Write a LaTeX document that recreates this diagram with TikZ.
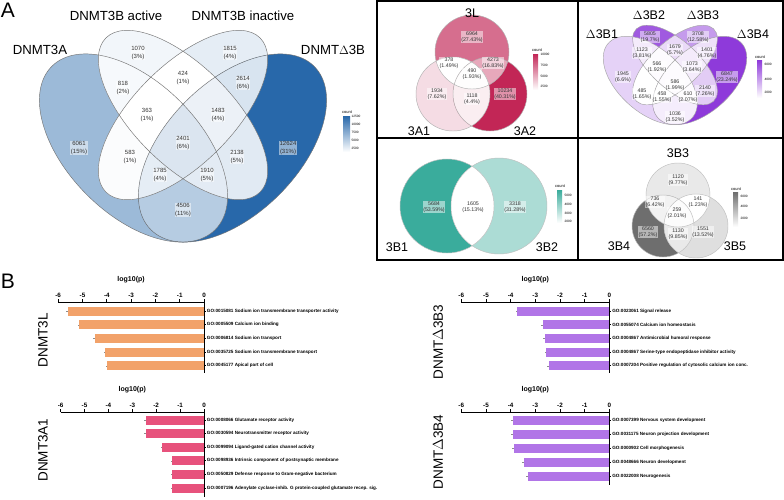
\documentclass[tikz,border=0pt]{standalone}
\usepackage{fontspec}
\setmainfont{Liberation Sans}
\usetikzlibrary{positioning}

\definecolor{vblue}{RGB}{40,104,170}
\definecolor{vred}{RGB}{194,38,86}
\definecolor{vpurple}{RGB}{142,58,218}
\definecolor{vteal}{RGB}{58,172,156}
\definecolor{vgrey}{RGB}{110,110,110}
\definecolor{barorange}{RGB}{242,162,106}
\definecolor{barpink}{RGB}{231,82,124}
\definecolor{barpurple}{RGB}{177,117,231}

% the four ellipses, placed round the centre of the two inner ones
\newcommand{\shA}{[rotate around={-45:(-49.5,33)}] (-49.5,33) ellipse [x radius=115.5, y radius=66]}
\newcommand{\shB}{[rotate around={-45:(0,0)}] (0,0) ellipse [x radius=109, y radius=49.5]}
\newcommand{\shC}{[rotate around={45:(0,0)}] (0,0) ellipse [x radius=109, y radius=49.5]}
\newcommand{\shD}{[rotate around={45:(49.5,33)}] (49.5,33) ellipse [x radius=115.5, y radius=66]}
% circles of the small diagrams
\newcommand{\cirL}{(472,52) circle [radius=37]}
\newcommand{\cirAa}{(453,94) circle [radius=37]}
\newcommand{\cirAb}{(490,94) circle [radius=37]}
\newcommand{\cirBa}{(447,206) circle [radius=47]}
\newcommand{\cirBb}{(499,206) circle [radius=48]}
\newcommand{\cirBc}{(678,195) circle [radius=32]}
\newcommand{\cirBd}{(663,226) circle [radius=31]}
\newcommand{\cirBe}{(696,226) circle [radius=32]}

% paint the part shared by all shapes in #1
\newcommand{\overlap}[2]{%
  \begin{scope}
    \foreach \s in {#1} {\clip \s;}
    \fill[#2] (-900,-900) rectangle (900,900);
  \end{scope}}

\begin{document}
\begin{tikzpicture}[x=1pt, y=-1pt,
    vline/.style={draw=black!55, line width=0.45pt},
    setname/.style={font=\fontsize{13.2}{15}\selectfont},
    smallset/.style={font=\fontsize{12.5}{14}\selectfont},
    cnt/.style={font=\fontsize{6}{7.2}\selectfont, align=center, text=black!80,
        fill=white, fill opacity=0.5, text opacity=1, inner sep=0.6pt},
    scnt/.style={cnt, font=\fontsize{5.3}{6.4}\selectfont},
    barkey/.style={font=\fontsize{4}{4}\selectfont, inner sep=0.5pt},
    barnum/.style={font=\fontsize{3.2}{3.2}\selectfont, anchor=west, inner sep=0.4pt},
    panel/.style={font=\fontsize{21}{21}\selectfont},
    axis/.style={line width=0.7pt},
    whisker/.style={line width=0.35pt, draw=black!45},
    ticknum/.style={font=\bfseries\fontsize{6.3}{6.3}\selectfont, inner sep=0.8pt},
    axtitle/.style={font=\bfseries\fontsize{7}{7}\selectfont},
    golab/.style={font=\bfseries\fontsize{4.6}{5}\selectfont, anchor=west, inner sep=0.6pt},
    chartname/.style={font=\fontsize{13.5}{15}\selectfont, rotate=90}
  ]
  \path[use as bounding box, fill=white] (0,0) rectangle (784,499);

  \node[panel] (pA) at (8,10) {A};
  \node[panel] (pB) at (8,281) {B};

  % --- FOUR-SET DIAGRAM ---
  \begin{scope}[shift={(183,115)}]
    \fill[vblue!46] \shA;
    \fill[vblue!6] \shB;
    \fill[vblue!12] \shC;
    \fill[vblue] \shD;
    \overlap{\shA,\shB}{vblue!4}
    \overlap{\shA,\shC}{vblue!2}
    \overlap{\shA,\shD}{vblue!34}
    \overlap{\shB,\shC}{white}
    \overlap{\shB,\shD}{vblue!14}
    \overlap{\shC,\shD}{vblue!18}
    \overlap{\shA,\shB,\shC}{white}
    \overlap{\shA,\shB,\shD}{vblue!13}
    \overlap{\shA,\shC,\shD}{vblue!12}
    \overlap{\shB,\shC,\shD}{vblue!9}
    \overlap{\shA,\shB,\shC,\shD}{vblue!17}
    \foreach \s in {\shA,\shB,\shC,\shD} \draw[vline] \s;
  \end{scope}
  \node[setname] (s3a) at (40,50) {DNMT3A};
  \node[setname] (s3bact) at (116,16) {DNMT3B active};
  \node[setname] (s3binact) at (243,16) {DNMT3B inactive};
  \node[setname] (sd3b) at (333,50) {DNMT$\Delta$3B};
  \node[cnt] (c1070) at (138,53) {1070\\(3\%)};
  \node[cnt] (c1815) at (230,53) {1815\\(4\%)};
  \node[cnt] (c818) at (123,88) {818\\(2\%)};
  \node[cnt] (c424) at (183,78) {424\\(1\%)};
  \node[cnt] (c2614) at (243,83) {2614\\(6\%)};
  \node[cnt] (c363) at (147,115) {363\\(1\%)};
  \node[cnt] (c1483) at (218,115) {1483\\(4\%)};
  \node[cnt] (c6061) at (79,148) {6061\\(15\%)};
  \node[cnt] (c2401) at (183,143) {2401\\(6\%)};
  \node[cnt] (c12624) at (288,148) {12624\\(31\%)};
  \node[cnt] (c583) at (130,157) {583\\(1\%)};
  \node[cnt] (c2138) at (237,157) {2138\\(5\%)};
  \node[cnt] (c1785) at (160,175) {1785\\(4\%)};
  \node[cnt] (c1910) at (207,175) {1910\\(5\%)};
  \node[cnt] (c4506) at (183,210) {4506\\(11\%)};
  \shade[top color=vblue, bottom color=white] (343,116) rectangle (350,152);
  \node[barkey] (kbig) at (347,112) {count};
  \foreach \v/\y in {12500/116,10000/124,7500/132,5000/140,2500/148}
    \node[barnum] (kbig\v) at (351,\y) {\v};

  % --- PANEL FRAME ---
  \draw[line width=1.4pt] (377,1) rectangle (783,260);
  \draw[line width=1.4pt] (578,1) -- (578,260);
  \draw[line width=1.4pt] (377,138) -- (783,138);

  % --- 3L / 3A1 / 3A2 ---
  \fill[vred!67] \cirL;
  \fill[vred!16] \cirAa;
  \fill[vred] \cirAb;
  \overlap{\cirL,\cirAa}{white}
  \overlap{\cirL,\cirAb}{vred!40}
  \overlap{\cirAa,\cirAb}{vred!8}
  \overlap{\cirL,\cirAa,\cirAb}{vred!1}
  \foreach \s in {\cirL,\cirAa,\cirAb} \draw[vline, draw=black!30] \s;
  \node[smallset] (s3l) at (472,13) {3L};
  \node[smallset] (s3a1) at (419,131) {3A1};
  \node[smallset] (s3a2) at (525,131) {3A2};
  \node[scnt] (c6964) at (472,37) {6964\\(27.43\%)};
  \node[scnt] (c378) at (449,63) {378\\(1.49\%)};
  \node[scnt] (c4273) at (493,63) {4273\\(16.83\%)};
  \node[scnt] (c490) at (472,74) {490\\(1.93\%)};
  \node[scnt] (c1934) at (437,94) {1934\\(7.62\%)};
  \node[scnt] (c1118) at (472,99) {1118\\(4.4\%)};
  \node[scnt] (c10234) at (505,94) {10234\\(40.31\%)};
  \shade[top color=vred, bottom color=white] (533,54) rectangle (538,90);
  \node[barkey] (kred) at (537,50) {count};
  \foreach \v/\y in {10000/54,7500/65,5000/76,2500/86}
    \node[barnum] (kred\v) at (540,\y) {\v};

  % --- DELTA3B1..4 ---
  \begin{scope}[shift={(675,65)}, xscale=0.5, yscale=0.47]
    \fill[vpurple!23] \shA;
    \fill[vpurple!84] \shB;
    \fill[vpurple!51] \shC;
    \fill[vpurple] \shD;
    \overlap{\shA,\shB}{vpurple!10}
    \overlap{\shA,\shC}{white}
    \overlap{\shA,\shD}{vpurple!9}
    \overlap{\shB,\shC}{vpurple!19}
    \overlap{\shB,\shD}{vpurple!26}
    \overlap{\shC,\shD}{vpurple!15}
    \overlap{\shA,\shB,\shC}{vpurple!2}
    \overlap{\shA,\shB,\shD}{vpurple!2}
    \overlap{\shA,\shC,\shD}{white}
    \overlap{\shB,\shC,\shD}{vpurple!10}
    \overlap{\shA,\shB,\shC,\shD}{vpurple!2}
    \foreach \s in {\shA,\shB,\shC,\shD} \draw[vline, draw=black!35] \s;
  \end{scope}
  \node[smallset] (sd1) at (602,34) {$\Delta$3B1};
  \node[smallset] (sd2) at (649,15) {$\Delta$3B2};
  \node[smallset] (sd3) at (703,15) {$\Delta$3B3};
  \node[smallset] (sd4) at (753,34) {$\Delta$3B4};
  \node[scnt] (c5805) at (650,37) {5805\\(19.7\%)};
  \node[scnt] (c3708) at (698,37) {3708\\(12.58\%)};
  \node[scnt] (c1123) at (642,53) {1123\\(3.81\%)};
  \node[scnt] (c1679) at (675,50) {1679\\(5.7\%)};
  \node[scnt] (c1401) at (707,53) {1401\\(4.76\%)};
  \node[scnt] (c1945) at (623,77) {1945\\(6.6\%)};
  \node[scnt] (c566) at (657,67) {566\\(1.92\%)};
  \node[scnt] (c1073) at (692,67) {1073\\(3.64\%)};
  \node[scnt] (c6847) at (727,77) {6847\\(23.24\%)};
  \node[scnt] (c586) at (675,85) {586\\(1.99\%)};
  \node[scnt] (c485) at (642,94) {485\\(1.65\%)};
  \node[scnt] (c458) at (662,97) {458\\(1.55\%)};
  \node[scnt] (c610) at (688,97) {610\\(2.07\%)};
  \node[scnt] (c2140) at (705,91) {2140\\(7.26\%)};
  \node[scnt] (c1036) at (675,117) {1036\\(3.52\%)};
  \shade[top color=vpurple, bottom color=white] (757,60) rectangle (762,98);
  \node[barkey] (kpur) at (760,57) {count};
  \foreach \v/\y in {6000/64,4000/79,2000/92}
    \node[barnum] (kpur\v) at (764,\y) {\v};

  % --- 3B1 / 3B2 ---
  \fill[vteal] \cirBa;
  \fill[vteal!42] \cirBb;
  \overlap{\cirBa,\cirBb}{white}
  \foreach \s in {\cirBa,\cirBb} \draw[vline, draw=black!25] \s;
  \node[smallset] (s3b1) at (397,247) {3B1};
  \node[smallset] (s3b2) at (547,247) {3B2};
  \node[scnt] (c5684) at (434,207) {5684\\(53.59\%)};
  \node[scnt] (c1605) at (473,207) {1605\\(15.13\%)};
  \node[scnt] (c3318) at (515,207) {3318\\(31.28\%)};
  \shade[top color=vteal, bottom color=white] (557,190) rectangle (562,223);
  \node[barkey] (ktea) at (560,186) {count};
  \foreach \v/\y in {5000/195,4000/204,3000/213,2000/221}
    \node[barnum] (ktea\v) at (564,\y) {\v};

  % --- 3B3 / 3B4 / 3B5 ---
  \fill[vgrey!15] \cirBc;
  \fill[vgrey] \cirBd;
  \fill[vgrey!22] \cirBe;
  \overlap{\cirBc,\cirBd}{vgrey!9}
  \overlap{\cirBc,\cirBe}{white}
  \overlap{\cirBd,\cirBe}{vgrey!15}
  \overlap{\cirBc,\cirBd,\cirBe}{vgrey!2}
  \foreach \s in {\cirBc,\cirBd,\cirBe} \draw[vline, draw=black!25] \s;
  \node[smallset] (s3b3) at (678,153) {3B3};
  \node[smallset] (s3b4) at (619,246) {3B4};
  \node[smallset] (s3b5) at (735,246) {3B5};
  \node[scnt] (c1120) at (678,180) {1120\\(9.77\%)};
  \node[scnt] (c736) at (655,202) {736\\(6.42\%)};
  \node[scnt] (c141) at (698,202) {141\\(1.23\%)};
  \node[scnt] (c259) at (677,213) {259\\(2.01\%)};
  \node[scnt] (c6560) at (648,232) {6560\\(57.2\%)};
  \node[scnt] (c1130) at (678,234) {1130\\(9.85\%)};
  \node[scnt] (c1551) at (703,232) {1551\\(13.52\%)};
  \shade[top color=vgrey, bottom color=white] (733,192) rectangle (738,227);
  \node[barkey] (kgry) at (736,189) {count};
  \foreach \v/\y in {6000/196,4000/206,2000/218}
    \node[barnum] (kgry\v) at (740,\y) {\v};

  % --- GO BARS: DNMT3L ---
  \node[chartname] (n3l) at (43,340) {DNMT3L};
  \begin{scope}[shift={(204,302)}, x=24.3pt]
    \node[axtitle] (t3l) at (-3,-22) {log10(p)};
    \draw[axis] (-6,0) -- (0,0) -- (0,71);
    \foreach \k in {-6,...,0}
      \draw[axis] (\k,0) -- ++(0,-3) node[ticknum, above] (k3l\k) {\k};
    \foreach \v/\go [count=\i] in {-5.6/GO:0015081 Sodium ion transmembrane transporter activity,
        -5.14/GO:0005509 Calcium ion binding, -4.49/GO:0006814 Sodium ion transport,
        -4.07/GO:0035725 Sodium ion transmembrane transport, -3.99/GO:0045177 Apical part of cell}
    {
      \fill[barorange] (\v,{9+13.7*(\i-1)-4.5}) rectangle (0,{9+13.7*(\i-1)+4.5});
      \draw[whisker] (\v,{9+13.7*(\i-1)}) -- ++(-1.5pt,0);
      \draw[axis] (0,{9+13.7*(\i-1)}) -- ++(2pt,0) node[golab] (g3l\i) {\go};
    }
  \end{scope}

  % --- GO BARS: DNMTD3B3 ---
  \node[chartname] (nd3) at (438,342) {DNMT$\Delta$3B3};
  \begin{scope}[shift={(609.3,302)}, x=24.67pt]
    \node[axtitle] (td3) at (-3,-22) {log10(p)};
    \draw[axis] (-6,0) -- (0,0) -- (0,71);
    \foreach \k in {-6,...,0}
      \draw[axis] (\k,0) -- ++(0,-3) node[ticknum, above] (kd3\k) {\k};
    \foreach \v/\go [count=\i] in {-3.74/GO:0023061 Signal release,
        -2.70/GO:0055074 Calcium ion homeostasis, -2.62/GO:0004867 Antimicrobial humoral response,
        -2.55/GO:0004867 Serine-type endopeptidase inhibitor activity,
        -2.46/GO:0007204 Positive regulation of cytosolic calcium ion conc.}
    {
      \fill[barpurple] (\v,{9+13.7*(\i-1)-4.5}) rectangle (0,{9+13.7*(\i-1)+4.5});
      \draw[whisker] (\v,{9+13.7*(\i-1)}) -- ++(-1.5pt,0);
      \draw[axis] (0,{9+13.7*(\i-1)}) -- ++(2pt,0) node[golab] (gd3\i) {\go};
    }
  \end{scope}

  % --- GO BARS: DNMT3A1 ---
  \node[chartname] (n3a1) at (43,450) {DNMT3A1};
  \begin{scope}[shift={(204,412)}, x=23.9pt]
    \node[axtitle] (t3a1) at (-3,-22) {log10(p)};
    \draw[axis] (-6,0) -- (0,0) -- (0,85);
    \foreach \k in {-6,...,0}
      \draw[axis] (\k,0) -- ++(0,-3) node[ticknum, above] (k3a\k) {\k};
    \foreach \v/\go [count=\i] in {-2.44/GO:0008066 Glutamate receptor activity,
        -2.43/GO:0030594 Neurotransmitter receptor activity,
        -1.74/GO:0099094 Ligand-gated cation channel activity,
        -1.33/GO:0098936 Intrinsic component of postsynaptic membrane,
        -1.32/GO:0050829 Defense response to Gram-negative bacterium,
        -1.32/GO:0007196 Adenylate cyclase-inhib. G protein-coupled glutamate recep. sig.}
    {
      \fill[barpink] (\v,{8+13.6*(\i-1)-4.5}) rectangle (0,{8+13.6*(\i-1)+4.5});
      \draw[whisker] (\v,{8+13.6*(\i-1)}) -- ++(-1.5pt,0);
      \draw[axis] (0,{8+13.6*(\i-1)}) -- ++(2pt,0) node[golab] (g3a\i) {\go};
    }
  \end{scope}

  % --- GO BARS: DNMTD3B4 ---
  \node[chartname] (nd4) at (438,452) {DNMT$\Delta$3B4};
  \begin{scope}[shift={(609.3,412)}, x=24.67pt]
    \node[axtitle] (td4) at (-3,-22) {log10(p)};
    \draw[axis] (-6,0) -- (0,0) -- (0,73);
    \foreach \k in {-6,...,0}
      \draw[axis] (\k,0) -- ++(0,-3) node[ticknum, above] (kd4\k) {\k};
    \foreach \v/\go [count=\i] in {-3.92/GO:0007399 Nervous system development,
        -3.92/GO:0031175 Neuron projection development, -3.88/GO:0000902 Cell morphogenesis,
        -3.47/GO:0048666 Neuron development, -3.30/GO:0022008 Neurogenesis}
    {
      \fill[barpurple] (\v,{8+14*(\i-1)-4.5}) rectangle (0,{8+14*(\i-1)+4.5});
      \draw[whisker] (\v,{8+14*(\i-1)}) -- ++(-1.5pt,0);
      \draw[axis] (0,{8+14*(\i-1)}) -- ++(2pt,0) node[golab] (gd4\i) {\go};
    }
  \end{scope}
\end{tikzpicture}
\end{document}
